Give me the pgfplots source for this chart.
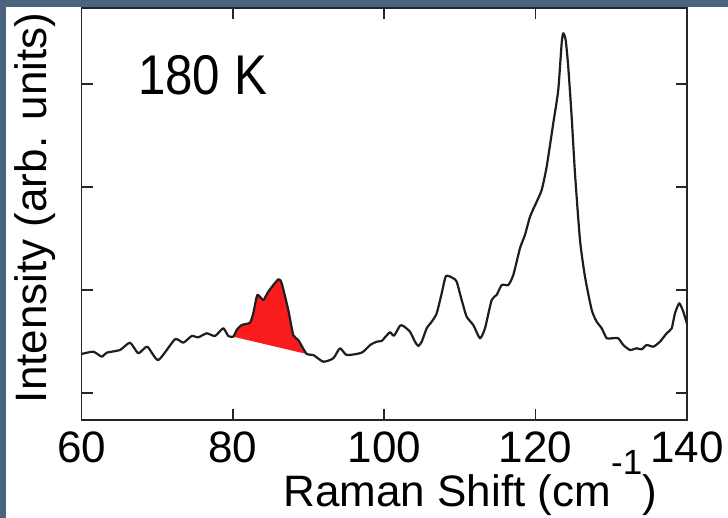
\documentclass[border=0pt]{standalone}
\usepackage{fontspec}
\setmainfont{Liberation Sans}
\usepackage{graphicx}
\usepackage{pgfplots}
\usepackage{pgfplotstable}
\pgfplotsset{compat=1.18}
\definecolor{band}{RGB}{74,100,128}
\definecolor{peakred}{RGB}{250,28,28}
\definecolor{curve}{RGB}{30,30,30}

\pgfplotstableread{
x y
60.00 66.0
61.56 68.3
62.67 63.3
63.33 67.3
65.09 70.0
66.41 77.3
67.50 66.7
68.69 73.3
70.15 60.0
72.35 80.7
73.45 77.3
74.56 84.0
75.43 82.7
76.54 86.7
77.64 84.0
78.73 91.7
79.39 84.0
80.06 83.3
80.50 90.0
81.17 95.0
82.26 97.3
82.70 106.7
83.23 125.0
84.02 120.0
84.68 128.3
86.00 140.7
86.45 136.7
87.32 110.0
87.98 85.0
88.64 80.0
89.75 66.0
90.63 65.0
91.95 58.3
93.27 61.7
94.15 71.7
95.04 65.0
97.02 67.3
98.14 75.0
99.00 78.3
99.66 79.0
100.10 82.7
100.76 87.7
101.29 84.3
102.08 94.3
102.52 94.0
103.40 88.3
104.06 78.3
104.50 74.0
104.95 78.3
105.61 91.7
106.27 98.3
106.93 106.7
107.59 126.7
108.16 144.0
109.12 141.7
109.57 138.3
110.23 120.0
110.89 103.3
111.76 95.0
112.65 81.7
113.31 91.7
114.19 120.0
114.85 125.0
115.52 135.0
116.39 135.0
117.05 145.0
117.93 171.7
118.59 185.0
119.26 203.3
120.14 218.3
120.80 230.0
121.46 253.3
122.33 296.7
122.99 330.0
123.44 376.7
123.65 386.7
123.97 380.0
124.31 353.3
124.76 303.3
125.20 246.7
125.86 180.0
126.52 143.3
127.41 110.0
128.07 98.3
128.73 91.7
129.39 81.7
130.05 81.7
130.92 81.7
131.58 75.0
132.47 70.0
133.35 71.7
134.01 70.7
134.67 75.0
135.55 73.3
136.43 78.3
137.31 86.7
137.98 91.7
138.41 106.7
138.98 116.7
139.51 108.3
140.04 95.0
}\spectrum

\pgfplotstableread{
x y
80.06 83.3
80.50 90.0
81.17 95.0
82.26 97.3
82.70 106.7
83.23 125.0
84.02 120.0
84.68 128.3
86.00 140.7
86.45 136.7
87.32 110.0
87.98 85.0
88.64 80.0
89.75 66.0
}\shaded

\begin{document}
\begin{tikzpicture}
\useasboundingbox (0,0) rectangle (728pt,518pt);
\fill[white] (0,0) rectangle (728pt,518pt);
\fill[band] (0,511pt) rectangle (728pt,518pt);
\fill[band] (0,0) rectangle (6pt,518pt);
\begin{axis}[
  at={(81.5pt,98pt)}, anchor=south west,
  scale only axis, width=605.5pt, height=412pt,
  xmin=60, xmax=140, ymin=0, ymax=412,
  xtick={60,80,...,140},
  ytick={27,130,233,336}, yticklabels={},
  tick align=inside, major tick length=11pt,
  axis line style={line width=1.6pt, color=black!85},
  tick style={line width=1.6pt, color=black!85},
  tick label style={font=\fontsize{44}{50}\selectfont},
  /pgf/number format/assume math mode=true,
  xticklabel style={anchor=north, inner sep=0pt, yshift=-12pt},
  every axis x label/.style={at={(axis description cs:0.642,-0.211)}, anchor=base, font=\fontsize{44}{50}\selectfont},
  every axis y label/.style={at={(axis description cs:-0.057,0.5146)}, anchor=base, rotate=90, font=\fontsize{44}{50}\selectfont},
  xlabel={Raman Shift (cm\raisebox{32pt}{\fontsize{35}{40}\selectfont -1})},
  ylabel={Intensity (arb. units)},
]
\addplot[fill=peakred, draw=none, smooth, tension=0.35] table[x=x,y=y] {\shaded};
\addplot[curve, line width=2.2pt, smooth, tension=0.35, line join=round] table[x=x,y=y] {\spectrum};
\node[anchor=base west, inner sep=0pt, font=\fontsize{56}{64}\selectfont] at (axis cs:67.46,325) {\scalebox{0.88}[1]{180 K}};
\end{axis}
\end{tikzpicture}
\end{document}
